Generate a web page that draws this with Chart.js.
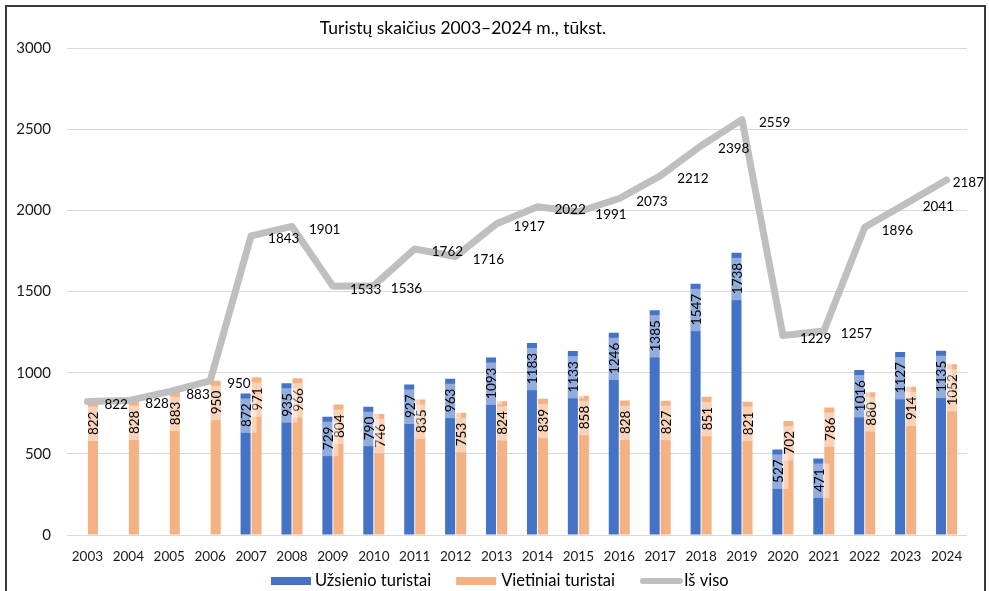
<!DOCTYPE html>
<html><head><meta charset="utf-8">
<script src="https://cdn.jsdelivr.net/npm/chart.js@4"></script>
<style>html,body{margin:0;padding:0;background:#fff}</style>
</head><body>
<canvas id="c" width="989" height="591"></canvas>
<script>
const years = ['2003','2004','2005','2006','2007','2008','2009','2010','2011','2012','2013','2014','2015','2016','2017','2018','2019','2020','2021','2022','2023','2024'];
const foreign = [null,null,null,null,872,935,729,790,927,963,1093,1183,1133,1246,1385,1547,1738,527,471,1016,1127,1135];
const domestic = [822,828,883,950,971,966,804,746,835,753,824,839,858,828,827,851,821,702,786,880,914,1052];
const total = [822,828,883,950,1843,1901,1533,1536,1762,1716,1917,2022,1991,2073,2212,2398,2559,1229,1257,1896,2041,2187];
const yTicks = [0,500,1000,1500,2000,2500,3000];
const chartTitle = 'Turistų skaičius 2003–2024 m., tūkst.';
const seriesNames = ['Užsienio turistai','Vietiniai turistai','Iš viso'];
const colors = ['#4472c4','#f4b183','#bfbfbf'];

const FONT = 'Lato, "Open Sans", sans-serif';

const decor = {
  id: 'decor',
  beforeDraw(chart) {
    const ctx = chart.ctx;
    ctx.save(); ctx.fillStyle = '#fff'; ctx.fillRect(0, 0, chart.width, chart.height); ctx.restore();
  },
  afterDatasetDraw(chart, args) {
    const ctx = chart.ctx;
    const meta = args.meta;
    const ds = chart.data.datasets[args.index];
    if (meta.type === 'bar') {
      ctx.save();
      ctx.font = '13.5px ' + FONT;
      meta.data.forEach((el, i) => {
        const v = ds.data[i];
        if (v == null) return;
        const txt = String(v);
        const w = ctx.measureText(txt).width;
        const cx = el.x;
        const textEnd = el.y + 10;
        const textStart = textEnd + w;
        ctx.fillStyle = 'rgba(255,255,255,0.42)';
        if (args.index === 0) ctx.fillRect(cx - 5, textEnd - 5, 16, w + 11);
        else ctx.fillRect(cx - 12, textEnd - 5, 17, w + 11);
        ctx.save();
        ctx.translate(cx + 1, textStart);
        ctx.rotate(-Math.PI / 2);
        ctx.fillStyle = '#000';
        ctx.textAlign = 'left';
        ctx.textBaseline = 'middle';
        ctx.fillText(txt, 0, 0);
        ctx.restore();
      });
      ctx.restore();
    } else if (meta.type === 'line') {
      ctx.save();
      ctx.font = '13.5px ' + FONT;
      ctx.fillStyle = '#000';
      ctx.textAlign = 'left';
      ctx.textBaseline = 'middle';
      meta.data.forEach((el, i) => {
        const txt = String(ds.data[i]);
        const w = ctx.measureText(txt).width;
        const x = Math.min(el.x + 17, 984 - w);
        ctx.fillText(txt, x, el.y + 3);
      });
      ctx.restore();
    }
  },
  afterDraw(chart) {
    const ctx = chart.ctx;
    ctx.save();
    // title
    ctx.font = '17.5px ' + FONT;
    ctx.fillStyle = '#000';
    ctx.textAlign = 'center';
    ctx.textBaseline = 'middle';
    ctx.fillText(chartTitle, 463, 28);
    // legend
    const ly = 581;
    ctx.font = '16.5px ' + FONT;
    ctx.textAlign = 'left';
    const boxW = [40, 40, 43], gapBox = [4, 5, 1], gapItem = 25;
    const widths = seriesNames.map(s => ctx.measureText(s).width);
    let totalW = 2 * gapItem;
    for (let k = 0; k < 3; k++) totalW += boxW[k] + gapBox[k] + widths[k];
    let x = Math.round(500 - totalW / 2);
    for (let k = 0; k < 3; k++) {
      if (k < 2) {
        ctx.fillStyle = colors[k];
        ctx.fillRect(x, ly - 4, boxW[k], 8);
      } else {
        ctx.strokeStyle = colors[k]; ctx.lineWidth = 6; ctx.lineCap = 'round';
        ctx.beginPath(); ctx.moveTo(x + 3, ly); ctx.lineTo(x + boxW[k] - 3, ly); ctx.stroke();
      }
      x += boxW[k] + gapBox[k];
      ctx.fillStyle = '#000';
      ctx.fillText(seriesNames[k], x, ly);
      x += widths[k] + gapItem;
    }
    // frame
    ctx.strokeStyle = '#3a3a3a'; ctx.lineWidth = 2; ctx.lineCap = 'butt';
    ctx.strokeRect(6, 6, 979, 600);
    ctx.restore();
  }
};

new Chart(document.getElementById('c'), {
  type: 'bar',
  data: {
    labels: years,
    datasets: [
      { type: 'bar', label: seriesNames[0], data: foreign, backgroundColor: colors[0], order: 1, categoryPercentage: 0.538, barPercentage: 0.91 },
      { type: 'bar', label: seriesNames[1], data: domestic, backgroundColor: colors[1], order: 1, categoryPercentage: 0.538, barPercentage: 0.91 },
      { type: 'line', label: seriesNames[2], data: total, borderColor: colors[2], backgroundColor: colors[2], borderWidth: 7, pointRadius: 0, tension: 0, borderCapStyle: 'round', borderJoinStyle: 'round', order: 0 }
    ]
  },
  options: {
    responsive: false,
    animation: false,
    devicePixelRatio: 1,
    layout: { padding: { top: 48, right: 22, bottom: 0, left: 0 } },
    plugins: { legend: { display: false }, title: { display: false }, tooltip: { enabled: false } },
    scales: {
      x: {
        grid: { display: false }, border: { display: false },
        ticks: { font: { family: FONT, size: 13.5 }, color: '#1a1a1a', padding: 6, maxRotation: 0, autoSkip: false },
        afterFit(s) { s.height = 56; }
      },
      y: {
        min: 0, max: 3000,
        afterBuildTicks(s) { s.ticks = yTicks.map(v => ({ value: v })); },
        ticks: { font: { family: FONT, size: 15 }, color: '#1a1a1a', padding: 16, callback: v => String(v) },
        grid: { color: '#d9d9d9', drawTicks: false, lineWidth: 1 },
        border: { display: false },
        afterFit(s) { s.width = 67; }
      }
    }
  },
  plugins: [decor]
});
</script>
</body></html>
